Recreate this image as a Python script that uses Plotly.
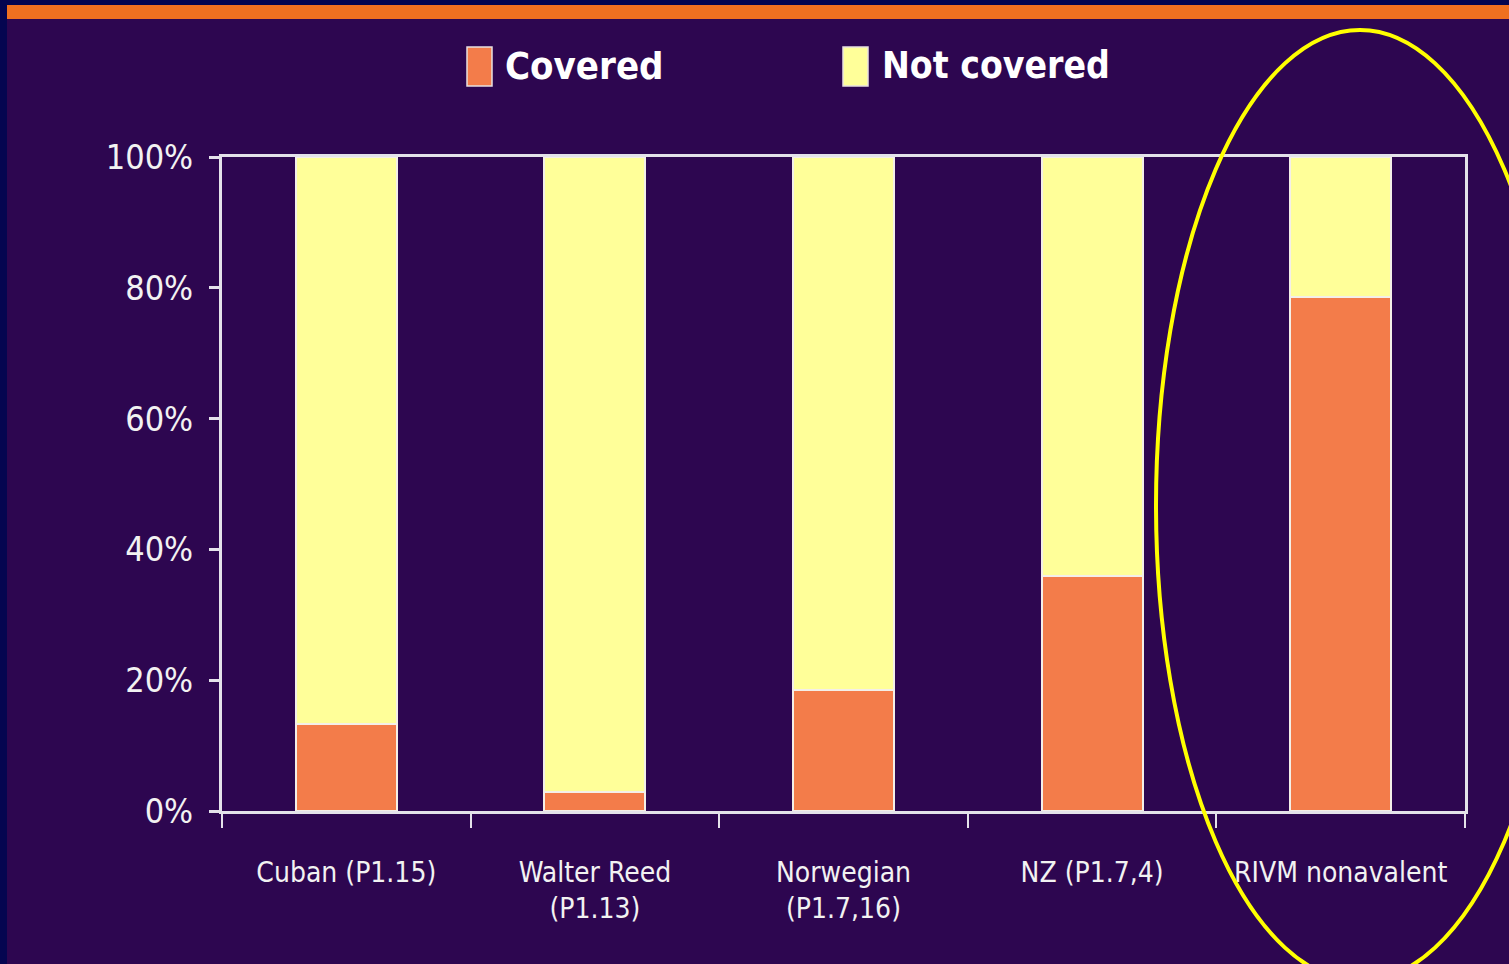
import plotly.graph_objects as go

categories = ["Cuban (P1.15)", "Walter Reed<br>(P1.13)", "Norwegian<br>(P1.7,16)", "NZ (P1.7,4)", "RIVM nonavalent"]
covered = [13.3, 2.9, 18.5, 36.0, 78.6]
not_covered = [100 - v for v in covered]
y_ticks = [0, 20, 40, 60, 80, 100]
y_tick_labels = ["0%", "20%", "40%", "60%", "80%", "100%"]
series_names = ["Covered", "Not covered"]

W, H = 1509, 964
L, R, T, B = 222, 1465, 157, 811

def px(x):
    return (x - L) / (R - L)

def py(y):
    return (B - y) / (B - T)

BG = "#2d0650"
ORANGE = "#f37c4a"
YELLOW = "#ffff99"
LINE = "#e4e2ea"
FONT = "DejaVu Sans Condensed, Liberation Sans Narrow, sans-serif"

fig = go.Figure()
fig.add_trace(go.Bar(x=categories, y=covered, name=series_names[0],
                     marker=dict(color=ORANGE, line=dict(color="#f4efe8", width=2)),
                     showlegend=False))
fig.add_trace(go.Bar(x=categories, y=not_covered, name=series_names[1],
                     marker=dict(color=YELLOW, line=dict(color="#f4efe8", width=2)),
                     showlegend=False))

shapes = [
    dict(type="rect", xref="paper", yref="paper", x0=px(0), x1=px(W), y0=py(0), y1=py(5),
         fillcolor="#050550", line=dict(width=0), layer="below"),
    dict(type="rect", xref="paper", yref="paper", x0=px(0), x1=px(W), y0=py(5), y1=py(19),
         fillcolor="#f07020", line=dict(width=0), layer="below"),
    dict(type="rect", xref="paper", yref="paper", x0=px(0), x1=px(7), y0=py(H), y1=py(0),
         fillcolor="#050550", line=dict(width=0), layer="below"),
    dict(type="rect", xref="paper", yref="paper", x0=px(467), x1=px(492), y0=py(86), y1=py(47),
         fillcolor=ORANGE, line=dict(color="#e8e0e0", width=1.5)),
    dict(type="rect", xref="paper", yref="paper", x0=px(843), x1=px(868), y0=py(86), y1=py(47),
         fillcolor=YELLOW, line=dict(color="#e8e0e0", width=1.5)),
    dict(type="circle", xref="paper", yref="paper", x0=px(1156), x1=px(1564), y0=py(981), y1=py(30),
         line=dict(color="#ffff00", width=4), fillcolor="rgba(0,0,0,0)"),
]

annotations = [
    dict(text=series_names[0], xref="paper", yref="paper", x=px(503), y=py(66), xanchor="left",
         yanchor="middle", showarrow=False, font=dict(family=FONT, size=38, color="white", weight="bold")),
    dict(text=series_names[1], xref="paper", yref="paper", x=px(880), y=py(66), xanchor="left",
         yanchor="middle", showarrow=False, font=dict(family=FONT, size=37, color="white", weight="bold")),
]

fig.update_layout(
    width=W, height=H,
    margin=dict(l=L, r=W - R, t=T, b=H - B, pad=0, autoexpand=False),
    paper_bgcolor=BG, plot_bgcolor=BG,
    barmode="stack", bargap=0.594,
    showlegend=False,
    shapes=shapes, annotations=annotations,
    font=dict(family=FONT, color="white"),
)
fig.update_xaxes(
    automargin=False, tickangle=0,
    showline=True, linecolor=LINE, linewidth=3, mirror=True,
    ticks="outside", tickson="boundaries", ticklen=14, tickwidth=2, tickcolor=LINE,
    tickfont=dict(family=FONT, size=28, color="#f2f2f2"),
    ticklabelstandoff=34,
    showgrid=False, zeroline=False,
)
fig.update_yaxes(
    automargin=False,
    range=[0, 100], tickvals=y_ticks, ticktext=y_tick_labels,
    showline=True, linecolor=LINE, linewidth=3, mirror=True,
    ticks="outside", ticklen=10, tickwidth=3, tickcolor=LINE,
    tickfont=dict(family=FONT, size=34, color="#f2f2f2"),
    ticklabelstandoff=9,
    showgrid=False, zeroline=False,
)

fig.write_html("out.html")
